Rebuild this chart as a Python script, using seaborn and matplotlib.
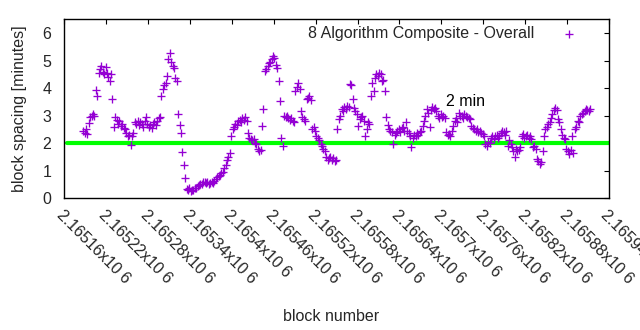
import numpy as np
import pandas as pd
import matplotlib
matplotlib.use("Agg")
import matplotlib.pyplot as plt
import seaborn as sns

# ---- data ----
first_block = 2165187
block_step = 2
spacing_minutes = [
    2.45, 2.35, 2.50, 2.32, 2.72, 2.95, 3.00, 3.05, 3.00, 3.92,
    3.71, 4.55, 4.70, 4.80, 4.60, 4.50, 4.75, 4.55, 4.40, 4.25,
    4.50, 3.60, 2.60, 2.93, 2.85, 2.70, 2.80, 2.62, 2.70, 2.55,
    2.50, 2.35, 2.25, 2.30, 1.92, 2.25, 2.35, 2.75, 2.70, 2.80,
    2.65, 2.75, 2.70, 2.60, 2.80, 2.95, 2.70, 2.60, 2.65, 2.55,
    2.70, 2.75, 2.65, 2.80, 2.90, 2.93, 3.71, 3.96, 4.10, 4.20,
    4.44, 5.05, 5.29, 4.95, 4.80, 4.74, 4.38, 4.26, 3.05, 2.65,
    2.35, 1.68, 1.20, 0.71, 0.33, 0.28, 0.35, 0.25, 0.30, 0.28,
    0.38, 0.35, 0.42, 0.48, 0.52, 0.50, 0.58, 0.60, 0.55, 0.58,
    0.52, 0.55, 0.60, 0.55, 0.63, 0.70, 0.75, 0.80, 0.85, 0.90,
    0.95, 1.10, 1.20, 1.40, 1.50, 1.65, 2.26, 2.50, 2.60, 2.70,
    2.65, 2.80, 2.85, 2.75, 2.90, 2.85, 2.95, 2.80, 2.38, 2.20,
    2.15, 2.10, 2.14, 2.00, 1.96, 1.80, 1.70, 1.75, 2.62, 3.23,
    4.62, 4.70, 4.80, 4.90, 4.95, 5.05, 5.16, 5.10, 4.85, 4.74,
    4.26, 3.53, 2.20, 1.90, 3.00, 2.95, 2.99, 2.90, 2.85, 2.92,
    2.80, 2.75, 3.90, 4.05, 4.20, 3.96, 3.17, 2.95, 2.87, 2.80,
    3.60, 3.65, 3.71, 3.55, 2.50, 2.57, 2.45, 2.26, 2.20, 2.10,
    1.96, 1.90, 1.80, 1.70, 1.50, 1.40, 1.45, 1.50, 1.38, 1.45,
    1.35, 1.40, 2.50, 2.87, 2.99, 3.23, 3.15, 3.30, 3.25, 3.35,
    3.30, 4.14, 4.10, 3.59, 3.29, 3.17, 3.05, 2.62, 2.87, 2.95,
    2.99, 2.80, 2.26, 2.50, 2.75, 2.70, 3.71, 4.20, 3.90, 4.38,
    4.50, 4.45, 4.56, 4.50, 4.26, 4.30, 3.90, 2.93, 2.65, 2.50,
    2.45, 2.40, 1.96, 2.30, 2.35, 2.45, 2.50, 2.40, 2.55, 2.60,
    2.45, 2.75, 2.45, 2.35, 2.25, 1.84, 2.20, 2.30, 2.25, 2.35,
    2.30, 2.40, 2.45, 2.62, 2.80, 2.99, 3.23, 3.10, 2.57, 3.20,
    3.30, 3.25, 3.29, 3.15, 3.00, 2.90, 3.05, 2.95, 3.00, 2.90,
    2.40, 2.30, 2.32, 2.25, 2.45, 2.62, 2.80, 2.90, 2.75, 3.11,
    2.99, 3.00, 2.90, 3.05, 3.00, 2.95, 2.90, 2.87, 2.62, 2.55,
    2.50, 2.45, 2.50, 2.40, 2.45, 2.35, 2.32, 2.25, 1.96, 1.90,
    2.05, 2.00, 2.20, 2.25, 2.15, 2.25, 2.30, 2.20, 2.25, 2.35,
    2.45, 2.40, 2.30, 2.45, 1.90, 2.10, 1.95, 1.85, 1.72, 1.48,
    1.80, 1.70, 1.75, 1.85, 2.25, 2.32, 2.20, 2.25, 2.30, 2.18,
    2.25, 2.15, 1.84, 1.88, 1.80, 1.42, 1.35, 1.23, 1.30, 1.72,
    2.26, 2.50, 2.60, 2.70, 2.75, 2.90, 3.05, 3.20, 3.29, 3.20,
    2.87, 2.75, 2.50, 2.30, 2.20, 2.15, 1.80, 1.70, 1.60, 1.75,
    2.26, 1.65, 2.50, 2.60, 2.81, 2.75, 2.99, 3.05, 3.10, 3.15,
    3.23, 3.20, 3.15, 3.23,
]
series_label = "8 Algorithm Composite - Overall"
target_minutes = 2
target_label = "2 min"
x_tick_values = [2165160 + 60 * k for k in range(14)]
x_tick_labels = ["2.16516x10 6", "2.16522x10 6", "2.16528x10 6", "2.16534x10 6",
                 "2.1654x10 6", "2.16546x10 6", "2.16552x10 6", "2.16558x10 6",
                 "2.16564x10 6", "2.1657x10 6", "2.16576x10 6", "2.16582x10 6",
                 "2.16588x10 6", "2.16594x10 6"]
y_ticks = [0, 1, 2, 3, 4, 5, 6]

blocks = first_block + block_step * np.arange(len(spacing_minutes))
df = pd.DataFrame({"block": blocks, "spacing": spacing_minutes})

sns.set_theme(style="white")
plt.rcParams["font.family"] = ["Liberation Sans", "DejaVu Sans"]
FS = 11.5

fig = plt.figure(figsize=(6.4, 3.3), dpi=100)
ax = fig.add_axes([0.1005, 0.40, 0.851, 0.5415])

ax.axhline(target_minutes, color="#00ff00", lw=3.0, zorder=1,
           xmin=0.005, xmax=1.0)
sns.scatterplot(data=df, x="block", y="spacing", ax=ax, marker="+",
                color="#9400d3", s=36, linewidth=0.95, label=series_label,
                zorder=3)

ax.set_xlim(x_tick_values[0], x_tick_values[-1])
ax.set_ylim(0, 6.5)
ax.set_yticks(y_ticks)
ax.set_yticklabels([str(v) for v in y_ticks], fontsize=FS)
ax.set_xticks(x_tick_values)
ax.set_xticklabels(x_tick_labels, rotation=-45, ha="left", va="top",
                   rotation_mode="anchor", fontsize=FS)
ax.tick_params(direction="in", top=True, right=True, length=3.5,
               width=0.8, color="black", pad=9.5)
ax.tick_params(axis="x", pad=7)
for sp in ax.spines.values():
    sp.set_color("black")
    sp.set_linewidth(1.0)

ax.set_xlabel("block number", fontsize=FS)
ax.set_ylabel("block spacing [minutes]", fontsize=FS, labelpad=11)
ax.xaxis.set_label_coords(0.49, -0.62)

ax.text(2165706, 3.52, target_label, fontsize=FS, ha="left", va="center",
        color="black")

leg = ax.legend(loc="upper right", frameon=False, markerfirst=False,
                fontsize=FS, handletextpad=1.15, borderaxespad=0.0,
                bbox_to_anchor=(0.967, 1.0))

fig.savefig("out.png", dpi=100)
